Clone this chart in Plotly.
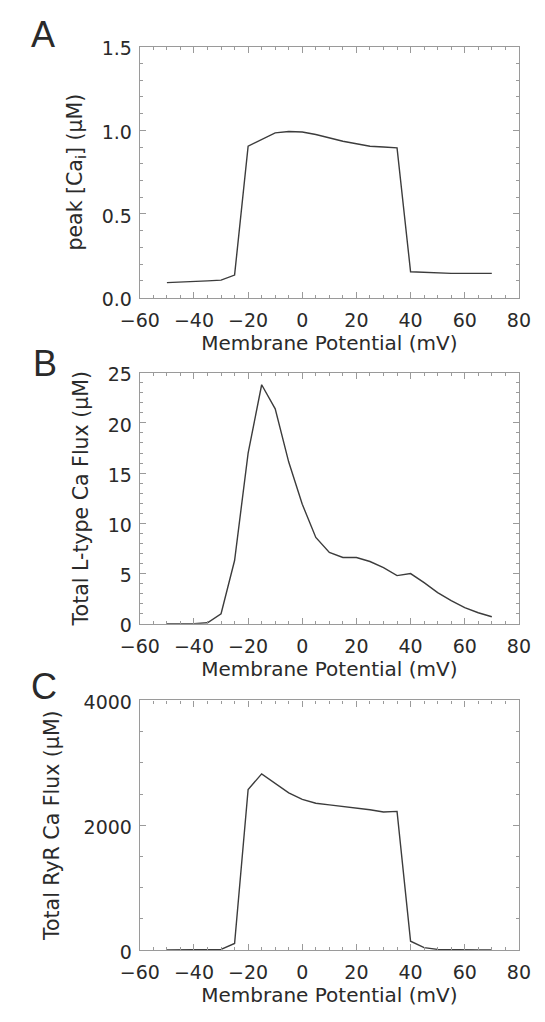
import plotly.graph_objects as go

# Membrane potential (mV)
voltage = [-50, -45, -40, -35, -30, -25, -20, -15, -10, -5, 0, 5, 10, 15, 20,
           25, 30, 35, 40, 45, 50, 55, 60, 65, 70]

# Panel A: peak [Ca_i] (uM)
peak_cai = [0.09, 0.092, 0.098, 0.100, 0.105, 0.135, 0.905, 0.945, 0.985, 0.993,
            0.990, 0.975, 0.955, 0.935, 0.920, 0.905, 0.900, 0.895, 0.155, 0.152,
            0.146, 0.145, 0.145, 0.145, 0.145]

# Panel B: total L-type Ca flux (uM)
ltype_flux = [0.0, 0.0, 0.0, 0.1, 1.0, 6.3, 17.0, 23.8, 21.4, 16.1,
              11.9, 8.6, 7.1, 6.6, 6.6, 6.2, 5.6, 4.8, 5.0, 4.1,
              3.1, 2.3, 1.6, 1.1, 0.7]

# Panel C: total RyR Ca flux (uM)
ryr_flux = [0, 0, 0, 0, 10, 105, 2573, 2824, 2667, 2520,
            2416, 2353, 2327, 2300, 2285, 2248, 2212, 2222, 141, 37,
            10, 3, 2, 1, 0]

x_ticks = [-60, -40, -20, 0, 20, 40, 60, 80]
x_range = [-60, 80]

FONT = "DejaVu Sans"
TEXT = "#2a2a2a"
AXIS = "#9a9a9a"
LINE = "#3c3c3c"

W, H = 545, 1022
x0, x1 = 127.3 / W, 530 / W
panels = [
    dict(top=38.5, bottom=295, y=peak_cai, yrange=[0, 1.5], dtick=0.5, minor=0.1,
         fmt=".1f", title="peak [Ca<sub>i</sub>] (μM)", letter="A", lx=24, ly=26, standoff=13),
    dict(top=371.7, bottom=628.3, y=ltype_flux, yrange=[0, 25], dtick=5, minor=1,
         fmt="d", title="Total L-type Ca Flux (μM)", letter="B", lx=27, ly=362, standoff=13),
    dict(top=706.7, bottom=961.7, y=ryr_flux, yrange=[0, 4000], dtick=2000, minor=500,
         fmt="d", title="Total RyR Ca Flux (μM)", letter="C", lx=25, ly=692, standoff=18),
]

fig = go.Figure()
annotations = []
layout = dict(
    width=W, height=H, margin=dict(l=0, r=0, t=0, b=0),
    paper_bgcolor="white", plot_bgcolor="white", showlegend=False,
    font=dict(family=FONT, color=TEXT, size=19),
)

for i, p in enumerate(panels, start=1):
    xa = "x" if i == 1 else f"x{i}"
    ya = "y" if i == 1 else f"y{i}"
    fig.add_trace(go.Scatter(x=voltage, y=p["y"], mode="lines",
                             line=dict(color=LINE, width=1.4),
                             xaxis=xa, yaxis=ya, hoverinfo="skip"))
    dom_y = [1 - p["bottom"] / H, 1 - p["top"] / H]
    sfx = "" if i == 1 else str(i)
    layout["xaxis" + sfx] = dict(
        domain=[x0, x1], anchor=ya, range=x_range, tickvals=x_ticks,
        ticktext=[("−" + str(-v)) if v < 0 else str(v) for v in x_ticks],
        showline=True, linecolor=AXIS, linewidth=1.2, mirror="allticks",
        ticks="inside", ticklen=6, tickcolor=AXIS, tickwidth=1,
        minor=dict(dtick=5, ticks="inside", ticklen=3, tickcolor=AXIS, tick0=0),
        showgrid=False, zeroline=False, tickfont=dict(size=19, color=TEXT),
        ticklabelstandoff=5,
        title=dict(text="Membrane Potential (mV)", font=dict(size=20, color=TEXT), standoff=4),
    )
    layout["yaxis" + sfx] = dict(
        domain=dom_y, anchor=xa, range=p["yrange"], dtick=p["dtick"], tick0=0,
        tickformat=p["fmt"],
        showline=True, linecolor=AXIS, linewidth=1.2, mirror="allticks",
        ticks="inside", ticklen=6, tickcolor=AXIS, tickwidth=1,
        minor=dict(dtick=p["minor"], ticks="inside", ticklen=3, tickcolor=AXIS, tick0=0),
        showgrid=False, zeroline=False, tickfont=dict(size=19, color=TEXT),
        ticklabelstandoff=3, ticklabelshift=2,
        title=dict(text=p["title"], font=dict(size=20.5, color=TEXT), standoff=p["standoff"]),
    )
    annotations.append(dict(text=p["letter"], x=p["lx"] / W, y=1 - p["ly"] / H,
                            xref="paper", yref="paper", showarrow=False,
                            xanchor="center", yanchor="middle",
                            font=dict(family="Liberation Sans", size=36, color=TEXT)))

layout["annotations"] = annotations
fig.update_layout(**layout)
fig.write_html("out.html")
